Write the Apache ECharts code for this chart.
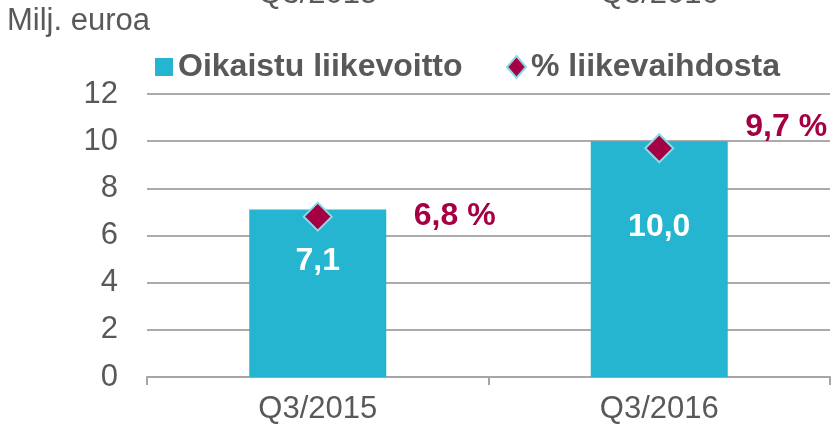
<!DOCTYPE html>
<html lang="fi">
<head>
  <meta charset="UTF-8">
  <title>Oikaistu liikevoitto</title>
  <script src="https://cdn.jsdelivr.net/npm/echarts@6/dist/echarts.min.js"></script>
  <style>
    html, body { margin: 0; padding: 0; background: #fff; }
  </style>
</head>
<body>
<div id="main" style="width: 833px;height: 425px;"></div>
<script>
  var categories = ['Q3/2015', 'Q3/2016'];
  var profitValues = [7.1, 10.0];     // Oikaistu liikevoitto, milj. euroa
  var marginValues = [6.8, 9.7];      // % liikevaihdosta
  var yTicks = { min: 0, max: 12, interval: 2 };

  var grey = '#595959';
  var wine = '#a50044';
  var font = 'Liberation Sans, Arial, sans-serif';

  function fi(v) {
    return v.toFixed(1).replace('.', ',');
  }

  var legendText = { color: grey, fontSize: 32, fontWeight: 'bold', fontFamily: font };

  var myChart = echarts.init(document.getElementById('main'));

  myChart.setOption({
    animation: false,
    textStyle: { fontFamily: font },
    grid: { left: 147, right: 3, top: 94, bottom: 48 },
    // two legends so the diamond can be a bit bigger than the square
    legend: [
      {
        left: 150, top: 46, itemWidth: 18, itemHeight: 18,
        textStyle: legendText,
        data: [{ name: 'Oikaistu liikevoitto', icon: 'rect' }]
      },
      {
        left: 501, top: 46, itemWidth: 19, itemHeight: 22,
        textStyle: legendText,
        data: [{ name: '% liikevaihdosta', icon: 'diamond' }]
      }
    ],
    xAxis: {
      type: 'category',
      data: categories,
      axisLine: { lineStyle: { color: '#a6a6a6', width: 2 } },
      axisTick: { show: true, length: 8, lineStyle: { color: '#a6a6a6', width: 2 } },
      axisLabel: { color: grey, fontSize: 31, margin: 17 }
    },
    yAxis: {
      type: 'value',
      min: yTicks.min,
      max: yTicks.max,
      interval: yTicks.interval,
      axisLine: { show: false },
      axisTick: { show: false },
      axisLabel: { color: grey, fontSize: 31, margin: 29 },
      splitLine: { lineStyle: { color: '#ababab', width: 2 } }
    },
    series: [
      {
        name: 'Oikaistu liikevoitto',
        type: 'bar',
        barWidth: 137,
        itemStyle: { color: '#25b5d0' },
        label: {
          show: true,
          position: 'inside',
          offset: [0, -32],
          color: '#fff',
          fontSize: 32,
          fontWeight: 'bold',
          formatter: function (p) { return fi(p.value); }
        },
        data: profitValues
      },
      {
        name: '% liikevaihdosta',
        type: 'scatter',
        symbol: 'diamond',
        symbolSize: 28,
        z: 5,
        itemStyle: { color: wine, opacity: 1, borderColor: '#8fd6e6', borderWidth: 2 },
        label: {
          show: true,
          position: 'right',
          color: wine,
          fontSize: 32,
          fontWeight: 'bold',
          formatter: function (p) { return fi(p.value) + ' %'; }
        },
        data: marginValues.map(function (v, i) {
          var lbl = i === 0 ? { distance: 81 } : { distance: 71, offset: [0, -21] };
          return { value: v, label: lbl };
        })
      }
    ]
  });

  // "Milj. euroa" and the clipped heading row at the very top
  var heads = categories.map(function (c) {
    var x = myChart.convertToPixel({ xAxisIndex: 0 }, c);
    return {
      type: 'text',
      style: { text: c, x: x, y: 10, align: 'center', verticalAlign: 'bottom',
        fill: grey, fontSize: 31, fontFamily: font }
    };
  });
  heads.push({
    type: 'text',
    style: { text: 'Milj. euroa', x: 7, y: 21, verticalAlign: 'middle',
      fill: grey, fontSize: 31, fontFamily: font }
  });
  myChart.setOption({ graphic: heads });
</script>
</body>
</html>
